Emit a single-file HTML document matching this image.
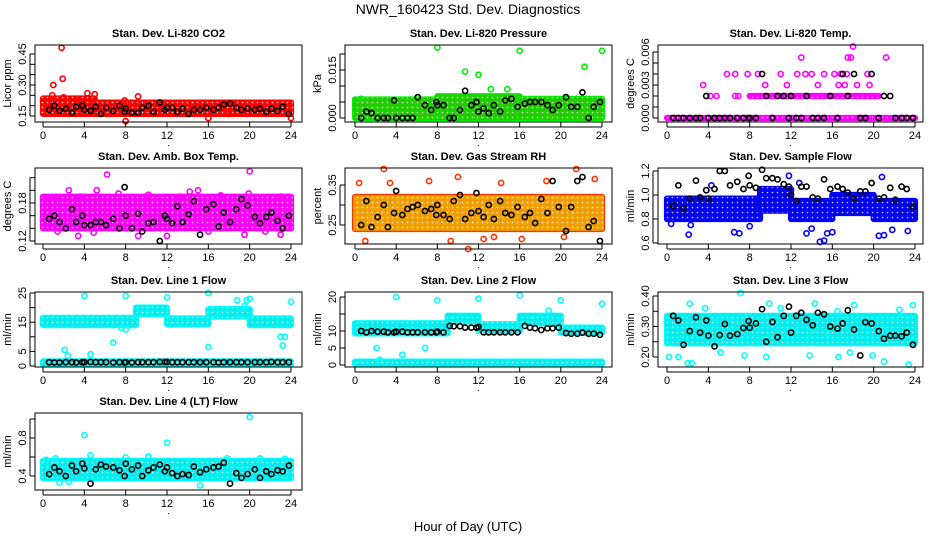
<!DOCTYPE html>
<html><head><meta charset="utf-8">
<style>
body{margin:0;background:#fff;}
svg{display:block;font-family:"Liberation Sans",sans-serif;}
</style></head>
<body>
<svg id="chart" width="936" height="540" viewBox="0 0 936 540">
<defs id="defs"></defs>
<text x="468" y="14" font-size="14" text-anchor="middle">NWR_160423 Std. Dev. Diagnostics</text>
<text x="468" y="531" font-size="13" text-anchor="middle">Hour of Day (UTC)</text>
</svg>
<script>
// shared hours for black (hourly-average) points
const blkHours = [0.6,1.1,1.6,2.2,2.8,3.2,3.8,4.0,4.6,5.1,5.6,6.1,6.8,7.4,7.9,8.0,8.6,9.2,9.6,10.2,10.7,11.3,11.8,12.0,12.5,13.0,13.5,14.1,14.6,15.2,15.8,16.5,17.0,17.5,18.1,18.7,19.2,19.8,20.5,21.0,21.6,22.1,22.7,23.2,23.8];
const xTicks = [0,4,8,12,16,20,24];

// segments: [hourStart, hourEnd, low, high]
const co2Segs = [[0,5,0.16,0.235],[5,24,0.16,0.215]];
const co2Pts = [[1.8,0.48],[1.9,0.33],[1.0,0.30],[8,0.125],[16,0.14],[24,0.14],[4.3,0.26],[9.2,0.245],[18,0.16],[2.0,0.24],[5,0.255],[0.9,0.25],[3.3,0.23],[7.9,0.225]];
const co2Blk = [0.18,0.20,0.175,0.185,0.165,0.195,0.20,0.18,0.175,0.195,0.16,0.19,0.175,0.20,0.17,0.185,0.165,0.165,0.19,0.20,0.17,0.215,0.18,0.19,0.19,0.17,0.185,0.16,0.18,0.18,0.19,0.18,0.19,0.205,0.21,0.19,0.18,0.185,0.18,0.185,0.17,0.185,0.175,0.195,0.16];

const presSegs = [[0,8,0.0,0.0058],[8,16,0.0,0.0068],[16,24,0.0,0.006]];
const presPts = [[8,0.022],[16,0.021],[24,0.021],[22.3,0.016],[10.7,0.0145],[12,0.0135],[14.8,0.009],[13.2,0.009],[0.6,0.006]];
const presBlk = [0,0.002,0.0015,0,0,0,0.0055,0,0,0,0,0.0065,0.004,0.0025,0.005,0.004,0.004,0,0,0.0025,0.0085,0.004,0.005,0.002,0.003,0.0015,0.004,0.002,0.0055,0.006,0.0035,0.0045,0.005,0.005,0.005,0.004,0.0025,0.004,0.0065,0.0035,0.0035,0.008,0,0.0035,0.005];

const tempSegs = [[0,24,0,0],[8,20.5,0.002,0.002]];
const tempPts = [[18,0.0065],[13,0.0055],[17.5,0.0055],[17.8,0.0055],[21.2,0.0055],[5.8,0.004],[6.6,0.004],[7.8,0.004],[8.8,0.004],[11,0.004],[12.6,0.004],[13.4,0.004],[14,0.004],[15.2,0.004],[16.2,0.004],[16.8,0.004],[17.4,0.004],[19.4,0.004],[4.2,0.002],[4.8,0.002],[6.6,0.002],[6.9,0.002],[3.5,0.003],[9.5,0.003],[11.6,0.003],[14.6,0.003],[16.6,0.003],[17.2,0.003],[18.4,0.003],[19.6,0.003]];
const tempBlk = [0,0,0,0,0,0,0.002,0,0,0,0,0,0,0,0,0,0,0.004,0.002,0,0.002,0.002,0,0.002,0,0,0.002,0,0,0,0.002,0,0.004,0.002,0.004,0,0,0.004,0,0.002,0.002,0,0,0,0];

const ambSegs = [[0,24,0.14,0.19]];
const ambPts = [[6.2,0.225],[20,0.23],[2.5,0.20],[5.2,0.20],[15,0.20],[14.2,0.198],[7.3,0.195],[3.4,0.128],[9.2,0.128],[12,0.128],[19.5,0.13],[23,0.13],[0.2,0.185],[1.2,0.188],[3.6,0.19],[10.2,0.193],[13.3,0.19],[17.2,0.192],[19.9,0.195],[23,0.19],[1.4,0.135],[4.9,0.133],[16,0.135],[21.5,0.135]];
const ambBlk = [0.155,0.16,0.15,0.14,0.17,0.15,0.16,0.145,0.145,0.15,0.15,0.145,0.155,0.14,0.205,0.16,0.14,0.163,0.135,0.148,0.15,0.12,0.16,0.155,0.148,0.175,0.15,0.162,0.183,0.13,0.17,0.178,0.143,0.165,0.15,0.17,0.186,0.176,0.158,0.148,0.158,0.165,0.152,0.14,0.16];

const rhSegs = [[0,24,0.24,0.32]];
const rhPts = [[2.8,0.39],[10,0.37],[21.5,0.39],[11,0.19],[1.0,0.21],[13.5,0.22],[0.4,0.355],[3.4,0.355],[7.2,0.36],[14.2,0.355],[18.6,0.36],[23.3,0.365],[9.3,0.21],[20.3,0.22],[12.5,0.215],[16.2,0.215]];
const rhBlk = [0.25,0.31,0.245,0.27,0.30,0.245,0.28,0.335,0.275,0.29,0.295,0.30,0.285,0.29,0.275,0.30,0.275,0.265,0.31,0.325,0.265,0.28,0.33,0.285,0.27,0.30,0.265,0.31,0.28,0.275,0.295,0.27,0.28,0.255,0.315,0.28,0.36,0.295,0.235,0.295,0.36,0.37,0.245,0.26,0.21];

const flowSegs = [[0,9,0.80,0.97],[9,12,0.87,1.05],[12,16,0.80,0.95],[16,20,0.85,1.0],[20,24,0.80,0.95]];
const flowPts = [[2.1,0.67],[13.5,0.68],[14.8,0.61],[15.2,0.62],[20.5,0.66],[21,0.665],[0.4,0.76],[7.0,0.68],[6.5,0.69],[11.8,1.16],[20.8,1.15],[4.3,1.08],[12.8,1.1],[14,0.72],[15.5,0.68],[16,0.69],[21.8,0.71],[23.3,0.7],[8,0.74],[2.3,0.75]];
const flowBlk = [0.91,1.08,0.89,0.97,1.12,0.98,1.04,0.97,1.05,1.2,1.2,1.08,1.11,1.05,1.16,1.08,1.06,1.21,1.14,1.14,1.13,1.09,1.07,1.0,0.95,1.07,1.07,0.98,0.97,1.13,1.05,1.07,1.05,1.02,0.97,1.03,1.03,1.10,0.97,0.98,1.06,0.96,1.07,1.05,0.90];

const l1Segs = [[0,9,14.0,16.5],[9,12,17.8,20],[12,16,14.3,16.3],[16,20,17,19.5],[20,24,14,16.3],[0,24,0.6,1.6]];
const l1Pts = [[4,24],[8,24],[12,23.5],[16,25],[18.8,22.5],[20,23],[19.7,22.5],[24,22],[2.1,5.5],[2.4,3.5],[4.6,4],[6.8,8],[16,6.5],[23,10],[23.2,7],[23.4,10],[8,12.5],[7.6,13],[19.5,20.5]];
const l1Blk = [1.3,1.2,1.2,1.3,1.3,1.2,1.3,1.3,1.4,1.3,1.3,1.3,1.2,1.3,1.2,1.3,1.2,1.3,1.3,1.3,1.3,1.4,1.4,1.4,1.3,1.3,1.3,1.3,1.3,1.3,1.3,1.3,1.2,1.3,1.3,1.3,1.3,1.3,1.3,1.3,1.3,1.4,1.3,1.3,1.3];

const l2Segs = [[0,9,9.3,12.3],[9,12,12.8,14.5],[12,16,10,12],[16,20,12.3,14.5],[20,24,9.5,11],[0,24,0.3,1.0]];
const l2Pts = [[4,20],[8,19],[12,19.5],[16,20.5],[20,19],[24,18],[18.8,16],[2.1,5],[2.4,1.5],[4.6,3],[6.8,5]];
const l2Blk = [10,9.6,10,9.8,9.8,9.6,9.6,9.8,9.8,9.6,9.6,9.6,9.6,9.6,9.6,9.8,9.6,11.5,11.4,11.4,11,11,11,11.2,9.6,9.6,9.6,9.6,9.6,9.6,9.6,11.5,11,10.8,10.3,10.8,10.8,11,9.4,9.2,9.2,9.5,9.2,9.2,8.9];

const l3Segs = [[0,24,0.245,0.335]];
const l3Pts = [[7.1,0.41],[0.2,0.20],[2.0,0.18],[2.4,0.18],[21,0.185],[23.4,0.175],[9.6,0.20],[16.6,0.20],[2.2,0.375],[9.9,0.375],[14.3,0.375],[18.1,0.37],[23.8,0.37],[11,0.36],[22.5,0.355],[1.1,0.20],[7.5,0.205],[13.8,0.205],[19.9,0.205],[5.2,0.215],[17.7,0.215],[3.7,0.36],[16.5,0.35]];
const l3Blk = [0.335,0.32,0.24,0.285,0.33,0.28,0.32,0.27,0.235,0.272,0.308,0.27,0.275,0.295,0.318,0.296,0.31,0.357,0.25,0.315,0.265,0.335,0.365,0.28,0.335,0.345,0.322,0.304,0.345,0.34,0.3,0.293,0.31,0.353,0.29,0.205,0.314,0.31,0.285,0.26,0.27,0.27,0.268,0.28,0.24];

const l4Segs = [[0,24,0.375,0.56]];
const l4Pts = [[4,0.83],[12,0.75],[20,1.02],[4.6,0.62],[1.6,0.33],[15.2,0.30],[2.5,0.34],[1.2,0.585],[10.2,0.605],[8,0.595],[17.8,0.585],[21,0.585],[0.3,0.57],[23.4,0.58]];
const l4Blk = [0.42,0.49,0.45,0.40,0.51,0.45,0.53,0.48,0.32,0.47,0.52,0.50,0.49,0.46,0.40,0.53,0.47,0.51,0.40,0.46,0.49,0.52,0.45,0.49,0.43,0.40,0.42,0.41,0.50,0.44,0.47,0.49,0.50,0.54,0.32,0.43,0.38,0.42,0.47,0.38,0.45,0.42,0.46,0.45,0.51];

// y-axis tick values and labels per panel
const co2Ticks=[0.15,0.20,0.25,0.30,0.35,0.40,0.45], co2Labels=["0.15","","","0.30","","","0.45"];
const presTicks=[0,0.005,0.010,0.015,0.020], presLabels=["0.000","","","0.015",""];
const tempTicks=[0,0.001,0.002,0.003,0.004,0.005,0.006], tempLabels=["0.000","","","0.003","","","0.006"];
const ambTicks=[0.12,0.14,0.16,0.18,0.20,0.22], ambLabels=["0.12","","","0.18","",""];
const rhTicks=[0.25,0.30,0.35], rhLabels=["0.25","","0.35"];
const flowTicks=[0.6,0.8,1.0,1.2], flowLabels=["0.6","0.8","1.0","1.2"];
const l1Ticks=[0,5,10,15,20,25], l1Labels=["0","5","","15","","25"];
const l2Ticks=[0,5,10,15,20], l2Labels=["0","5","10","","20"];
const l3Ticks=[0.20,0.25,0.30,0.35,0.40], l3Labels=["0.20","","0.30","","0.40"];
const l4Ticks=[0.4,0.6,0.8,1.0], l4Labels=["0.4","","0.8",""];

const NS="http://www.w3.org/2000/svg";
const svg=document.getElementById('chart');
const defs=document.getElementById('defs');
const colL=[35,345,658], colR=[302,612,923], colX0=[43,355,667], colX24=[291,602,915];
const rowT=[45,168,292,413], rowB=[122,244,367,490];

function mk(tag,attrs,parent){const e=document.createElementNS(NS,tag);for(const k in attrs)e.setAttribute(k,attrs[k]);(parent||svg).appendChild(e);return e;}

function makePattern(key,color,stroke){
  const p=mk('pattern',{id:'pat-'+key,width:5,height:5,patternUnits:'userSpaceOnUse'},defs);
  mk('rect',{x:0,y:0,width:5,height:5,fill:color},p);
  mk('circle',{cx:2.5,cy:2.5,r:0.8,fill:'#fff','fill-opacity':0.85},p);
  mk('circle',{cx:0,cy:0,r:0.6,fill:stroke},p);
}

function panel(key,title,ylab,col,row,yA,yB,color,stroke,segs,pts,blk,ticks,labels){
  makePattern(key,color,stroke);
  const g=mk('g',{});
  
  
  const L=colL[col],R=colR[col],T=rowT[row],B=rowB[row];
  const xs=h=>colX0[col]+(colX24[col]-colX0[col])*h/24;
  const ys=v=>yA[1]+(v-yA[0])*(yB[1]-yA[1])/(yB[0]-yA[0]);
  segs.forEach(s=>{
    const r=mk('rect',{x:xs(s[0])-2.5,y:ys(s[3])-2.5,width:xs(s[1])-xs(s[0])+5,height:ys(s[2])-ys(s[3])+5,fill:'url(#pat-'+key+')',stroke:stroke,'stroke-width':1.2,rx:2.5},g);
    
    
  });
  pts.forEach(p=>{
    const c=mk('circle',{cx:xs(p[0]),cy:ys(p[1]),r:2.6,fill:'none',stroke:stroke,'stroke-width':1.6},g);
    
    
  });
  blk.forEach((v,i)=>{
    const c=mk('circle',{cx:xs(blkHours[i]),cy:ys(v),r:2.6,fill:'none',stroke:'#000','stroke-width':1.6},g);
    
    
  });
  const box=mk('rect',{x:L,y:T,width:R-L,height:B-T,fill:'none',stroke:'#000','stroke-width':1},g);
  
  
  xTicks.forEach(t=>{
    mk('line',{x1:xs(t),x2:xs(t),y1:B,y2:B+5,stroke:'#000'},g);
    const tx=mk('text',{x:xs(t),y:B+17,'font-size':11,'text-anchor':'middle'},g);
    tx.textContent=t;
    
    
  });
  mk('line',{x1:xs(0),x2:xs(24),y1:B+5,y2:B+5,stroke:'#000'},g);
  const dot=mk('text',{x:(L+R)/2,y:B+24,'font-size':9,'text-anchor':'middle'},g);
  dot.textContent='.';
  
  
  ticks.forEach((t,i)=>{
    const y=ys(t);
    mk('line',{x1:L-5,x2:L,y1:y,y2:y,stroke:'#000'},g);
    if(labels[i]){
      const tx=mk('text',{x:L-9,y:y,'font-size':11,'text-anchor':'middle',transform:`rotate(-90 ${L-9} ${y})`},g);
      tx.textContent=labels[i];
      
      
    }
  });
  mk('line',{x1:L-5,x2:L-5,y1:ys(ticks[0]),y2:ys(ticks[ticks.length-1]),stroke:'#000'},g);
  const tt=mk('text',{x:(L+R)/2,y:T-8,'font-size':11,'font-weight':'bold','text-anchor':'middle'},g);
  tt.textContent=title;
  
  
  const yl=mk('text',{x:L-24,y:(T+B)/2,'font-size':11,'text-anchor':'middle',transform:`rotate(-90 ${L-24} ${(T+B)/2})`},g);
  yl.textContent=ylab;
  
  
}

panel('co2','Stan. Dev. Li-820 CO2','Licor ppm',0,0,[0.15,116],[0.45,54],'#ff0000','#ff0000',co2Segs,co2Pts,co2Blk,co2Ticks,co2Labels);
panel('pressure','Stan. Dev. Li-820 Pressure','kPa',1,0,[0,118],[0.015,70],'#22cc00','#00ee00',presSegs,presPts,presBlk,presTicks,presLabels);
panel('temp','Stan. Dev. Li-820 Temp.','degrees C',2,0,[0,118],[0.006,52],'#ff00ff','#ff00ff',tempSegs,tempPts,tempBlk,tempTicks,tempLabels);
panel('amb-temp','Stan. Dev. Amb. Box Temp.','degrees C',0,1,[0.12,241],[0.18,203],'#ff00ff','#ff00ff',ambSegs,ambPts,ambBlk,ambTicks,ambLabels);
panel('rh','Stan. Dev. Gas Stream RH','percent',1,1,[0.25,225],[0.35,185],'#f0a000','#ff3300',rhSegs,rhPts,rhBlk,rhTicks,rhLabels);
panel('sample-flow','Stan. Dev. Sample Flow','ml/min',2,1,[0.6,243],[1.2,171],'#0000ee','#0000ff',flowSegs,flowPts,flowBlk,flowTicks,flowLabels);
panel('line1','Stan. Dev. Line 1 Flow','ml/min',0,2,[0,366],[25,293],'#00eeee','#00ffff',l1Segs,l1Pts,l1Blk,l1Ticks,l1Labels);
panel('line2','Stan. Dev. Line 2 Flow','ml/min',1,2,[0,365],[20,297],'#00eeee','#00ffff',l2Segs,l2Pts,l2Blk,l2Ticks,l2Labels);
panel('line3','Stan. Dev. Line 3 Flow','ml/min',2,2,[0.2,357],[0.4,296],'#00eeee','#00ffff',l3Segs,l3Pts,l3Blk,l3Ticks,l3Labels);
panel('line4','Stan. Dev. Line 4 (LT) Flow','ml/min',0,3,[0.4,476],[0.8,438],'#00eeee','#00ffff',l4Segs,l4Pts,l4Blk,l4Ticks,l4Labels);
</script>
</body></html>
